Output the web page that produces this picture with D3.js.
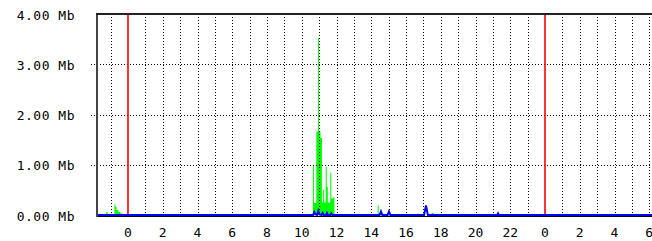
<!DOCTYPE html>
<html>
<head>
<meta charset="utf-8">
<script src="https://cdn.jsdelivr.net/npm/d3@7"></script>
<style>
  html, body { margin: 0; padding: 0; background: #fff; overflow: hidden; }
  svg { display: block; }
  text { font-family: "DejaVu Sans Mono", monospace; font-size: 13px; fill: #000; }
</style>
</head>
<body>
<div id="chart"></div>
<script>
// Traffic in (green area), hours relative to first midnight, Mb
const inHours  = [-1.78, -1.25, -1.17, -0.78, -0.72, -0.66, -0.56, -0.44, -0.30, -0.20,
                  10.64, 10.70, 10.84, 10.93, 10.99, 11.08, 11.16, 11.23, 11.29, 11.38,
                  11.44, 11.50, 11.64, 11.70, 11.80, 11.88,
                  14.37, 14.43, 14.55, 17.48, 17.58, 21.30, 21.36, 31.5];
const inValues = [0, 0.06, 0, 0.21, 0.16, 0.10, 0.06, 0.03, 0.01, 0,
                  1.00, 0.24, 1.66, 3.52, 1.66, 1.53, 0.25, 0.50, 0.25, 0.96,
                  0.56, 0.25, 0.84, 0.33, 0.35, 0,
                  0.19, 0.03, 0, 0.04, 0, 0.02, 0, 0];

// Traffic out (blue line)
const outHours  = [-1.78, 10.66, 10.72, 10.80, 10.88, 10.95, 11.02, 11.14, 11.20, 11.26,
                   11.40, 11.45, 11.50, 11.64, 11.70, 11.76,
                   14.48, 14.56, 14.64, 14.94, 15.02, 15.10,
                   17.04, 17.15, 17.26, 21.26, 21.30, 21.34, 31.5];
const outValues = [0, 0, 0.06, 0.01, 0, 0.08, 0.01, 0, 0.04, 0,
                   0, 0.04, 0, 0, 0.03, 0,
                   0, 0.07, 0, 0, 0.07, 0,
                   0, 0.19, 0, 0, 0.03, 0, 0];

const yTicks = [0, 1, 2, 3, 4];
const yTickLabels = ['0.00 Mb', '1.00 Mb', '2.00 Mb', '3.00 Mb', '4.00 Mb'];
const gridHours = d3.range(-1, 32);
const labelHours = [0, 2, 4, 6, 8, 10, 12, 14, 16, 18, 20, 22, 24, 26, 28, 30];
const midnightHours = [0, 24];

const width = 652, height = 241;
const plotLeft = 97, plotTop = 14, plotBottom = 215;

const svg = d3.select('#chart').append('svg')
  .attr('width', width)
  .attr('height', height);

// Scales
const x = d3.scaleLinear().domain([0, 24]).range([128, 545]);
const y = d3.scaleLinear().domain([0, 4]).range([plotBottom, plotTop]);
const hourLeft = x.invert(plotLeft);

const inData = inHours.map((h, i) => ({ h: Math.max(h, hourLeft), v: inValues[i] }));
const outData = outHours.map((h, i) => ({ h: Math.max(h, hourLeft), v: outValues[i] }));

// Green area (in)
svg.append('path')
  .datum(inData)
  .attr('fill', '#00ff00')
  .attr('d', d3.area()
    .x(d => x(d.h))
    .y0(y(0))
    .y1(d => y(d.v))
    .curve(d3.curveStepAfter));

// Dotted grid - horizontal
svg.selectAll('.hgrid')
  .data(yTicks.slice(1, -1))
  .enter()
  .append('line')
  .attr('x1', plotLeft - 6)
  .attr('x2', width)
  .attr('y1', d => Math.round(y(d)) + 0.5)
  .attr('y2', d => Math.round(y(d)) + 0.5)
  .attr('stroke', '#000')
  .attr('stroke-width', 1)
  .attr('stroke-dasharray', '1,2');

// Dotted grid - vertical (every hour)
svg.selectAll('.vgrid')
  .data(gridHours.filter(h => !midnightHours.includes(h)))
  .enter()
  .append('line')
  .attr('x1', d => Math.round(x(d)) + 0.5)
  .attr('x2', d => Math.round(x(d)) + 0.5)
  .attr('y1', plotTop)
  .attr('y2', plotBottom)
  .attr('stroke', '#000')
  .attr('stroke-width', 1)
  .attr('stroke-dasharray', '1,2');

// Midnight markers
svg.selectAll('.midnight')
  .data(midnightHours)
  .enter()
  .append('line')
  .attr('x1', d => x(d))
  .attr('x2', d => x(d))
  .attr('y1', plotTop)
  .attr('y2', plotBottom)
  .attr('stroke', '#ff0000')
  .attr('stroke-width', 1.6);

// Blue line (out)
svg.append('path')
  .datum(outData)
  .attr('fill', 'none')
  .attr('stroke', '#0000ff')
  .attr('stroke-width', 2)
  .attr('d', d3.line()
    .x(d => x(d.h))
    .y(d => y(d.v)));

// Frame: x axis, left axis, top border
svg.append('line')
  .attr('x1', plotLeft - 1).attr('x2', width)
  .attr('y1', plotBottom + 1.5).attr('y2', plotBottom + 1.5)
  .attr('stroke', '#000').attr('stroke-width', 1);

svg.append('line')
  .attr('x1', plotLeft).attr('x2', plotLeft)
  .attr('y1', plotTop - 1).attr('y2', plotBottom + 2)
  .attr('stroke', '#444').attr('stroke-width', 2);

svg.append('line')
  .attr('x1', plotLeft - 1).attr('x2', width)
  .attr('y1', plotTop).attr('y2', plotTop)
  .attr('stroke', '#222').attr('stroke-width', 2);

// Y labels
svg.selectAll('.ylabel')
  .data(yTicks)
  .enter()
  .append('text')
  .attr('x', 75)
  .attr('y', d => y(d) + 2)
  .attr('text-anchor', 'end')
  .attr('dominant-baseline', 'middle')
  .style('letter-spacing', '0.5px')
  .text((d, i) => yTickLabels[i]);

// X labels
svg.selectAll('.xlabel')
  .data(labelHours)
  .enter()
  .append('text')
  .attr('x', d => x(d))
  .attr('y', 233)
  .attr('text-anchor', 'middle')
  .attr('dominant-baseline', 'middle')
  .text(d => String(d % 24));
</script>
</body>
</html>
